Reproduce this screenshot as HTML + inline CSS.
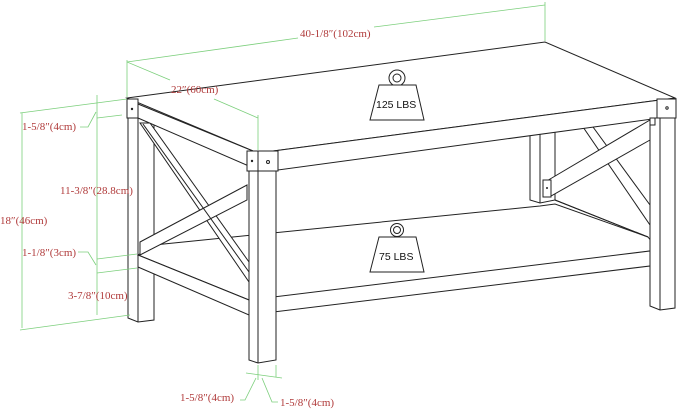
<!DOCTYPE html>
<html><head><style>
html,body{margin:0;padding:0;background:#fff;width:679px;height:410px;overflow:hidden}
svg{display:block}
.t{font-family:"Liberation Serif",serif;font-size:11px;fill:#b03a3a}
.k{stroke:#222;stroke-width:1;fill:none}
.kf{stroke:#222;stroke-width:1;fill:#fff}
.g{stroke:#7ccf7c;stroke-width:0.8;fill:none}
.w{font-family:"Liberation Sans",sans-serif;font-size:10.5px;fill:#111}
</style></head><body>
<svg width="679" height="410" viewBox="0 0 679 410" xmlns="http://www.w3.org/2000/svg">
<!-- back right leg -->
<polyline class="kf" points="530,133 530,200 540,203 555,200 555,131"/>
<line class="k" x1="540" y1="133" x2="540" y2="203"/>
<!-- right X -->
<polygon class="kf" points="583,127 593,127 650,205 650,225"/>
<polygon class="kf" points="545,182 650,120 650,140 551,196"/>
<rect class="kf" x="543" y="180" width="8" height="17"/>
<circle cx="547" cy="188" r="1" fill="#222"/>
<line class="k" x1="555" y1="200" x2="648" y2="237"/>
<!-- left back leg -->
<polygon class="kf" points="128,118 154,118 154,320 138,322 128,318"/>
<line class="k" x1="138" y1="118" x2="138" y2="322"/>
<!-- shelf -->
<polygon class="kf" points="138,255 154,245 530,207 540,206 555,204 648,237 658,250 276,302 249,300"/>
<line class="k" x1="555" y1="200" x2="648" y2="237"/>
<polygon class="kf" points="138,255 249,300 249,315 138,267"/>
<polygon class="kf" points="249,300 658,250 658,265 249,315"/>
<!-- left X -->
<polygon class="kf" points="140,123 150,123 249,262 249,282"/>
<polygon class="kf" points="140,242 247,185 247,200 140,255"/>
<line class="k" x1="143" y1="124" x2="249" y2="272"/>
<!-- top -->
<polygon class="kf" points="127,98 545,42 675,98 258,153"/>
<polygon class="kf" points="138,104 258,153 258,170 138,118"/>
<polygon class="kf" points="258,153 660,100 660,118 278,170"/>
<rect class="kf" x="127" y="99" width="11" height="19"/>
<circle cx="132" cy="109" r="1.2" fill="#222"/>
<rect class="kf" x="247" y="151" width="31" height="20"/>
<line class="k" x1="258" y1="151" x2="258" y2="171"/>
<circle cx="252" cy="161" r="1.2" fill="#222"/>
<circle cx="268" cy="162" r="1.5" class="k"/>
<rect class="kf" x="657" y="99" width="19" height="19"/>
<circle cx="667" cy="108" r="1.2" class="k"/>
<!-- front legs -->
<polygon class="kf" points="249,171 276,171 276,360 258,363 249,360"/>
<line class="k" x1="258" y1="171" x2="258" y2="363"/>
<polygon class="kf" points="650,118 675,118 675,308 660,310 650,306"/>
<line class="k" x1="660" y1="118" x2="660" y2="310"/>
<polygon class="kf" points="650,118 655,118 655,125 650,125"/>
<!-- weights -->
<circle cx="397" cy="78" r="8" class="kf"/><circle cx="397" cy="78" r="4" class="k"/>
<polygon class="kf" points="379,85 416,85 424,120 370,120"/>
<text class="w" x="376" y="108">125 LBS</text>
<circle cx="397" cy="230" r="6.5" class="kf"/><circle cx="397" cy="230" r="3.5" class="k"/>
<polygon class="kf" points="379,237 416,237 424,272 370,272"/>
<text class="w" x="379" y="260">75 LBS</text>
<!-- dims -->
<line class="g" x1="127" y1="60" x2="127" y2="97"/>
<line class="g" x1="545" y1="2" x2="545" y2="41"/>
<line class="g" x1="127" y1="62" x2="298" y2="38"/>
<line class="g" x1="374" y1="27" x2="545" y2="5"/>
<text class="t" x="300" y="37">40-1/8″(102cm)</text>
<line class="g" x1="127" y1="62" x2="170" y2="80"/>
<line class="g" x1="214" y1="99" x2="258" y2="118"/>
<line class="g" x1="258" y1="115" x2="258" y2="150"/>
<text class="t" x="171" y="93">22″(60cm)</text>
<line class="g" x1="20" y1="113" x2="127" y2="99"/>
<line class="g" x1="97" y1="118" x2="122" y2="115"/>
<line class="g" x1="97" y1="95" x2="97" y2="315"/>
<line class="g" x1="22" y1="113" x2="22" y2="328"/>
<line class="g" x1="20" y1="330" x2="130" y2="315"/>
<polyline class="g" points="80,127 88,127 96,112"/>
<text class="t" x="22" y="130">1-5/8″(4cm)</text>
<text class="t" x="0" y="224">18″(46cm)</text>
<text class="t" x="60" y="194">11-3/8″(28.8cm)</text>
<line class="g" x1="97" y1="259" x2="137" y2="254"/>
<line class="g" x1="97" y1="273" x2="137" y2="268"/>
<polyline class="g" points="78,252 88,252 96,265"/>
<text class="t" x="22" y="256">1-1/8″(3cm)</text>
<text class="t" x="68" y="299">3-7/8″(10cm)</text>
<line class="g" x1="246" y1="373" x2="282" y2="378"/>
<line class="g" x1="258" y1="365" x2="258" y2="380"/>
<line class="g" x1="276" y1="365" x2="276" y2="377"/>
<polyline class="g" points="240,400 245,400 256,378"/>
<polyline class="g" points="262,378 272,402 278,402"/>
<text class="t" x="180" y="401">1-5/8″(4cm)</text>
<text class="t" x="280" y="406">1-5/8″(4cm)</text>
</svg>
</body></html>
